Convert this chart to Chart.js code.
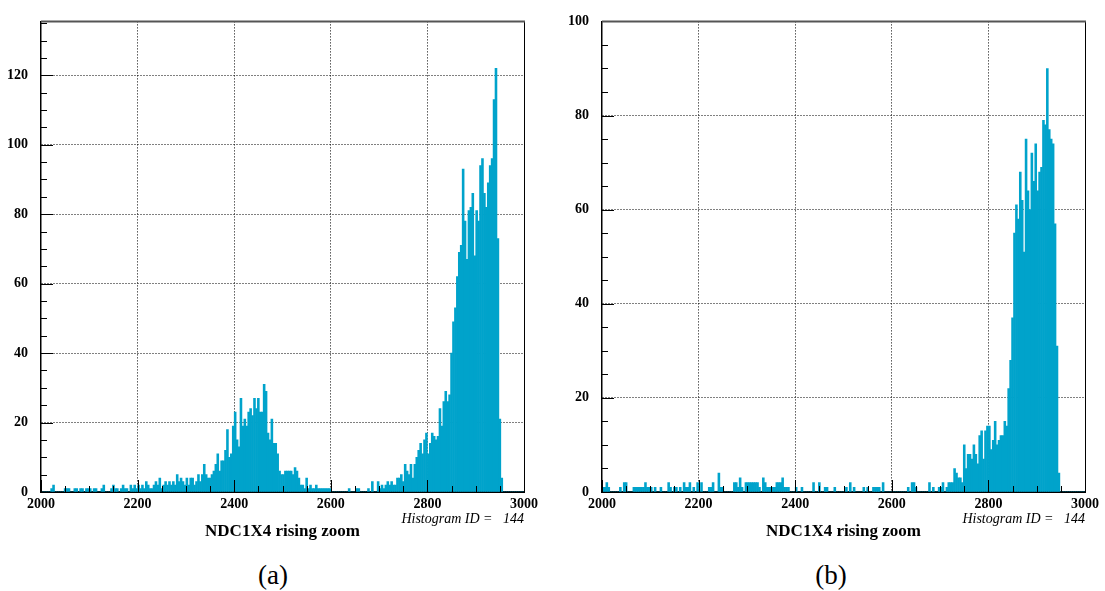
<!DOCTYPE html>
<html>
<head>
<meta charset="utf-8">
<script src="https://cdn.jsdelivr.net/npm/chart.js@4"></script>
<style>
  body { margin: 0; background: #fff; width: 1105px; height: 591px; position: relative; overflow: hidden; }
  canvas { position: absolute; top: 0; }
  #chartA { left: 0; }
  #chartB { left: 561px; }
  .caption { position: absolute; top: 557px; font: 27px "Liberation Serif", serif; color: #000; transform: translateX(-50%); line-height: 36px; }
</style>
</head>
<body>
<canvas id="chartA" width="552" height="550"></canvas>
<canvas id="chartB" width="544" height="550"></canvas>
<div class="caption" style="left:273px">(a)</div>
<div class="caption" style="left:831px">(b)</div>
<script>
// histogram binning (4 units per bin, 2000..3000)
const binLow = 2000;
const binWidth = 4;

// x axis labels and y axis labels
const xTicks = [2000, 2200, 2400, 2600, 2800, 3000];
const yTicksA = [0, 20, 40, 60, 80, 100, 120];
const yTicksB = [0, 20, 40, 60, 80, 100];

// counts per bin, one row = 100 units
const countsA = [
  0,0,0,0,0,1,2,0,0,0,0,0,1,1,1,0,0,1,1,0,1,1,0,1,1,
  1,0,1,1,0,0,1,2,0,0,0,1,2,1,1,0,1,2,1,1,0,2,1,2,1,
  2,1,2,1,3,2,1,1,2,3,2,4,1,2,3,2,3,2,3,2,5,3,4,3,2,
  4,2,4,4,2,3,5,3,5,8,5,4,4,5,6,8,11,6,9,9,12,18,10,11,19,
  23,15,13,27,19,21,19,23,24,22,27,24,27,23,23,31,29,17,15,21,14,14,11,6,5,
  5,6,6,6,6,5,7,6,4,2,2,1,4,1,2,1,1,2,1,1,1,1,1,1,1,
  0,0,0,0,0,0,0,0,0,1,0,0,0,1,1,0,0,0,0,1,0,3,0,0,3,
  1,2,1,2,3,2,3,2,2,4,4,5,3,8,6,5,8,4,8,10,12,14,11,15,17,
  11,14,17,16,15,16,24,19,26,29,26,28,40,49,53,62,69,71,93,78,67,81,82,86,68,
  81,78,94,96,86,82,89,94,96,113,122,73,21,4,0,0,0,0,0,0,0,0,0,0,0
];

const countsB = [
  1,1,2,1,0,0,0,0,0,1,0,2,2,0,0,0,1,1,1,1,1,1,2,1,1,
  1,0,1,0,0,1,0,0,0,2,1,0,1,1,0,1,0,2,1,1,2,0,1,0,2,
  0,2,0,0,0,1,1,2,0,0,4,1,1,0,0,0,0,0,2,2,1,3,1,0,2,
  2,2,2,2,2,2,1,0,3,2,1,1,1,1,1,2,2,2,3,1,1,1,0,0,0,
  1,0,0,1,0,0,0,0,0,2,0,0,2,0,0,1,1,0,0,0,1,0,0,0,0,
  0,1,0,2,0,1,0,0,0,0,1,0,1,0,0,1,1,1,1,0,2,0,0,0,0,
  0,0,0,0,0,0,0,0,1,0,2,2,1,0,0,0,0,0,0,2,0,1,0,0,1,
  1,2,0,1,2,2,2,5,4,3,3,2,10,5,8,8,7,10,8,6,12,13,7,13,14,
  14,9,11,15,10,11,12,12,15,14,22,28,37,55,61,58,68,62,51,75,64,60,72,66,74,
  64,68,69,79,78,90,77,75,74,57,31,4,0,0,0,0,0,0,0,0,0,0,0,0,0
];

const barColor = '#00a3cb';
const labelFont = { family: 'Liberation Serif', size: 14, weight: 'bold' };

// inward ticks (ROOT style), top/right frame and the histogram id
const frameTicks = {
  id: 'frameTicks',
  afterDraw(chart) {
    const { ctx, chartArea: a, scales: { x, y } } = chart;
    ctx.save();
    ctx.strokeStyle = '#000';
    ctx.lineWidth = 1;
    ctx.beginPath();
    for (let v = 0; v <= y.max; v += 5) {
      const py = Math.round(y.getPixelForValue(v)) + 0.5;
      const len = v % 20 === 0 ? 12 : 6;
      ctx.moveTo(a.left, py);
      ctx.lineTo(a.left + len, py);
    }
    for (let v = x.min; v <= x.max; v += 50) {
      const px = Math.round(x.getPixelForValue(v)) + 0.5;
      const len = v % 200 === 0 ? 12 : 6;
      ctx.moveTo(px, a.bottom);
      ctx.lineTo(px, a.bottom - len);
    }
    ctx.stroke();

    ctx.beginPath();
    ctx.moveTo(Math.round(a.right) + 0.5, a.top);
    ctx.lineTo(Math.round(a.right) + 0.5, a.bottom);
    ctx.stroke();
    ctx.strokeStyle = '#555';
    ctx.lineWidth = 2;
    ctx.beginPath();
    ctx.moveTo(a.left, a.top);
    ctx.lineTo(a.right + 1, a.top);
    ctx.stroke();

    ctx.fillStyle = '#000';
    ctx.font = 'italic 14px "Liberation Serif"';
    ctx.textAlign = 'right';
    ctx.textBaseline = 'middle';
    ctx.fillText('Histogram ID =   144', a.right, a.bottom + 27);
    ctx.restore();
  }
};

function makeChart(id, counts, yMax, yTicks, rightPad) {
  const points = counts.map((c, i) => ({ x: binLow + binWidth * (i + 0.5), y: c }));
  return new Chart(document.getElementById(id), {
    type: 'bar',
    data: {
      datasets: [{
        data: points,
        backgroundColor: barColor,
        borderWidth: 0,
        barPercentage: 1,
        categoryPercentage: 1,
        grouped: false
      }]
    },
    options: {
      responsive: false,
      animation: false,
      layout: { padding: { top: 10, right: rightPad, left: 0, bottom: 0 } },
      plugins: { legend: { display: false }, tooltip: { enabled: false } },
      scales: {
        x: {
          type: 'linear',
          min: xTicks[0],
          max: xTicks[xTicks.length - 1],
          offset: false,
          z: 1,
          afterFit: s => { s.height = 58; },
          afterBuildTicks: s => { s.ticks = xTicks.map(v => ({ value: v })); },
          grid: {
            offset: false,
            drawTicks: false,
            color: c => (c.tick && (c.tick.value === xTicks[0] || c.tick.value === xTicks[xTicks.length - 1])) ? 'rgba(0,0,0,0)' : '#000'
          },
          border: { display: true, color: '#000', width: 2, dash: [1, 2] },
          ticks: { color: '#000', font: labelFont, padding: 4, maxRotation: 0, autoSkip: false, callback: v => String(v) },
          title: {
            display: true,
            text: 'NDC1X4 rising zoom',
            color: '#000',
            font: { family: 'Liberation Serif', size: 17, weight: 'bold' },
            padding: { top: 0, bottom: 8 }
          }
        },
        y: {
          min: 0,
          max: yMax,
          z: 1,
          afterFit: s => { s.width = 41; },
          afterBuildTicks: s => { s.ticks = yTicks.map(v => ({ value: v })); },
          grid: {
            drawTicks: false,
            color: c => (c.tick && c.tick.value === 0) ? 'rgba(0,0,0,0)' : '#000'
          },
          border: { display: true, color: '#000', width: 1.5, dash: [1, 2] },
          ticks: { color: '#000', font: labelFont, padding: 13, callback: v => String(v) }
        }
      }
    },
    plugins: [frameTicks]
  });
}

makeChart('chartA', countsA, 135.5, yTicksA, 28);
makeChart('chartB', countsB, 100, yTicksB, 20);
</script>
</body>
</html>
